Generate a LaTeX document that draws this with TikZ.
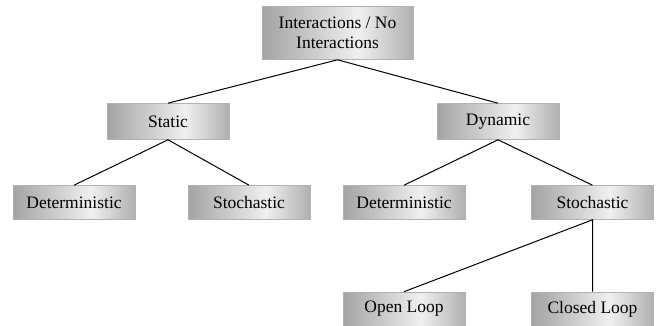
\documentclass[tikz,border=0pt]{standalone}
\usepackage{fontspec}
\newfontfamily\boxfont{LiberationSerif-Regular.ttf}
\pgfdeclarehorizontalshading{boxshade}{100bp}{color(0bp)=(gray!72); color(25bp)=(gray!72); color(57bp)=(gray!12); color(75bp)=(gray!62); color(100bp)=(gray!62)}
\tikzset{
  box/.style={shading=boxshade, draw=gray!60, line width=.6pt, minimum width=122pt, minimum height=34pt, inner sep=0pt,
    font=\boxfont\fontsize{17.5}{20}\selectfont},
  link/.style={line width=1pt}
}
\begin{document}
\begin{tikzpicture}[x=1pt, y=-1pt]
\useasboundingbox (0,0) rectangle (656,326);
\node[box, minimum width=151pt, minimum height=53pt, align=center] (top) at (337.5,33) {Interactions / No\\Interactions};
\node[box, minimum height=36pt] (static) at (168,121.5) {Static};
\node[box, minimum height=36pt] (dynamic) at (498,121.5) {Dynamic};
\node[box] (detA) at (74,202.5) {Deterministic};
\node[box] (stoA) at (249,202.5) {Stochastic};
\node[box] (detB) at (404,202.5) {Deterministic};
\node[box] (stoB) at (592.5,202.5) {Stochastic};
\node[box] (open) at (404,309) {Open Loop};
\node[box] (closed) at (592.5,309) {Closed Loop};
\draw[link] (static.north)--(top.south)--(dynamic.north);
\draw[link] (detA.north)--(static.south)--(stoA.north);
\draw[link] (detB.north)--(dynamic.south)--(stoB.north);
\draw[link] (open.north)--(stoB.south)--(closed.north);
\end{tikzpicture}
\end{document}
